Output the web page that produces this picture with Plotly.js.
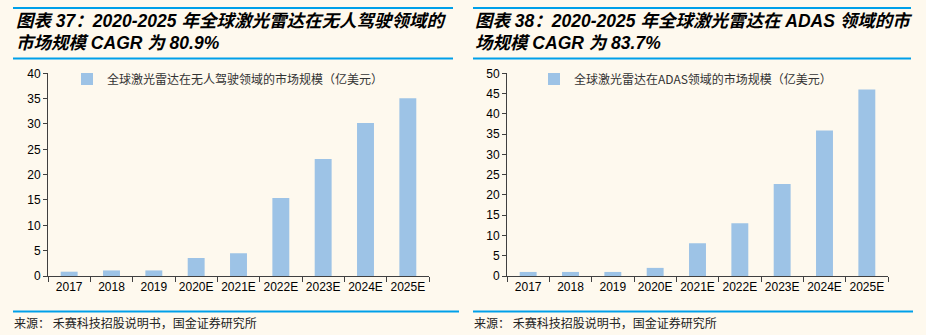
<!DOCTYPE html>
<html>
<head>
<meta charset="utf-8">
<script src="https://cdn.plot.ly/plotly-3.0.1.min.js"></script>
<style>
  html, body { margin: 0; padding: 0; background: #FEF9EE; }
  #chart { width: 926px; height: 335px; }
</style>
</head>
<body>
<div id="chart"></div>
<script>
// Market size of automotive lidar, 100 million USD
const categories = ['2017', '2018', '2019', '2020E', '2021E', '2022E', '2023E', '2024E', '2025E'];
const autonomousValues = [0.85, 1.1, 1.1, 3.55, 4.5, 15.4, 23.1, 30.2, 35.1];
const adasValues = [1.0, 1.0, 1.0, 2.0, 8.1, 13.0, 22.7, 35.9, 46.0];

const autonomousName = '全球激光雷达在无人驾驶领域的市场规模（亿美元）';
const adasName = '全球激光雷达在ADAS领域的市场规模（亿美元）';

const leftTitleLines = ['图表 37：2020-2025 年全球激光雷达在无人驾驶领域的', '市场规模 CAGR 为 80.9%'];
const rightTitleLines = ['图表 38：2020-2025 年全球激光雷达在 ADAS 领域的市', '场规模 CAGR 为 83.7%'];
const sourceText = '来源： 禾赛科技招股说明书，国金证券研究所';

const leftTicks = [0, 5, 10, 15, 20, 25, 30, 35, 40];
const rightTicks = [0, 5, 10, 15, 20, 25, 30, 35, 40, 45, 50];

// Page geometry in pixels, converted to paper coordinates
const W = 926, H = 335;
const px = x => x / W;
const py = y => 1 - y / H;

const BAR = '#9DC3E6';
const AXIS = '#404040';
const BLUE = '#00A0E9';
const LATIN = 'Liberation Sans, Arial, Noto Sans CJK SC, sans-serif';
const CJK = 'Noto Sans CJK SC, sans-serif';

const traces = [
  {
    type: 'bar', x: categories, y: autonomousValues, name: autonomousName,
    xaxis: 'x', yaxis: 'y', width: 0.4, marker: { color: BAR },
    legend: 'legend', hoverinfo: 'x+y'
  },
  {
    type: 'bar', x: categories, y: adasValues, name: adasName,
    xaxis: 'x2', yaxis: 'y2', width: 0.4, marker: { color: BAR },
    legend: 'legend2', hoverinfo: 'x+y'
  }
];

function xAxis(domain, anchor) {
  return {
    domain: domain, anchor: anchor, type: 'category',
    showline: true, linecolor: AXIS, linewidth: 1,
    ticks: 'outside', tickson: 'boundaries', ticklen: 5, tickcolor: AXIS, tickwidth: 1,
    tickangle: 0, automargin: false,
    showgrid: false, zeroline: false,
    tickfont: { family: LATIN, size: 12, color: '#000' }
  };
}
function yAxis(domain, anchor, range, ticks) {
  return {
    domain: domain, anchor: anchor, range: range,
    tickmode: 'array', tickvals: ticks,
    showline: true, linecolor: AXIS, linewidth: 1,
    ticks: 'outside', ticklen: 4, tickcolor: AXIS, tickwidth: 1,
    showgrid: false, zeroline: false, automargin: false,
    tickfont: { family: LATIN, size: 12, color: '#000' }
  };
}

const plotY = [py(276), py(73.3)];

function legendAt(x, y) {
  return {
    x: px(x), y: py(y), xanchor: 'left', yanchor: 'middle',
    bgcolor: 'rgba(0,0,0,0)', borderwidth: 0,
    font: { family: CJK, size: 12, color: '#333' }
  };
}

function hline(x0, x1, y) {
  return {
    type: 'line', xref: 'paper', yref: 'paper',
    x0: px(x0), x1: px(x1), y0: py(y), y1: py(y),
    line: { color: BLUE, width: 2 }
  };
}

function titleLine(text, x, y) {
  return {
    xref: 'paper', yref: 'paper', x: px(x), y: py(y),
    xanchor: 'left', yanchor: 'middle', showarrow: false,
    text: '<b><i>' + text + '</i></b>',
    font: { family: LATIN, size: 17.5, color: '#000' }
  };
}

function sourceLine(x) {
  return {
    xref: 'paper', yref: 'paper', x: px(x), y: py(322),
    xanchor: 'left', yanchor: 'middle', showarrow: false,
    text: sourceText,
    font: { family: CJK, size: 12, color: '#222' }
  };
}

const layout = {
  width: W, height: H,
  margin: { l: 0, r: 0, t: 0, b: 0 },
  paper_bgcolor: '#FEF9EE', plot_bgcolor: 'rgba(0,0,0,0)',
  showlegend: true,
  xaxis: xAxis([px(48), px(429)], 'y'),
  yaxis: yAxis(plotY, 'x', [0, 40], leftTicks),
  xaxis2: xAxis([px(507), px(888)], 'y2'),
  yaxis2: yAxis(plotY, 'x2', [0, 50], rightTicks),
  legend: legendAt(67, 79),
  legend2: legendAt(534, 79),
  shapes: [
    hline(13, 453, 8), hline(13, 453, 58.5), hline(13, 459, 311.5),
    hline(473, 911, 8), hline(473, 911, 58.5), hline(473, 913, 311.5)
  ],
  annotations: [
    titleLine(leftTitleLines[0], 14, 21),
    titleLine(leftTitleLines[1], 14, 43),
    titleLine(rightTitleLines[0], 473, 21),
    titleLine(rightTitleLines[1], 473, 43),
    sourceLine(12),
    sourceLine(472)
  ]
};

Plotly.newPlot('chart', traces, layout, { displayModeBar: false, staticPlot: true });
</script>
</body>
</html>
